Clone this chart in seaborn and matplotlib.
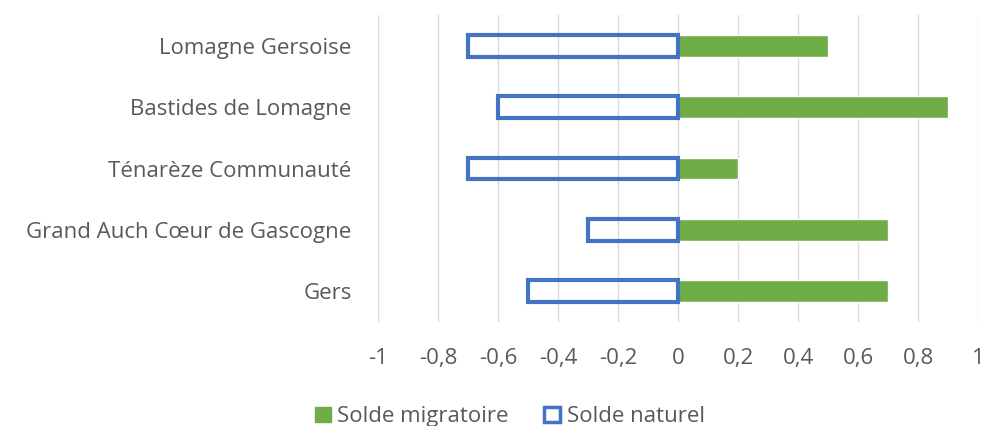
import matplotlib
matplotlib.use('Agg')
import matplotlib.pyplot as plt
import seaborn as sns
import pandas as pd
from matplotlib.patches import Patch
from matplotlib.ticker import FuncFormatter

# data
territoires = ['Lomagne Gersoise', 'Bastides de Lomagne', 'Ténarèze Communauté',
               'Grand Auch Cœur de Gascogne', 'Gers']
solde_migratoire = [0.5, 0.9, 0.2, 0.7, 0.7]
solde_naturel = [-0.7, -0.6, -0.7, -0.3, -0.5]
xticks = [-1, -0.8, -0.6, -0.4, -0.2, 0, 0.2, 0.4, 0.6, 0.8, 1]

df = pd.DataFrame({'territoire': territoires,
                   'migratoire': solde_migratoire,
                   'naturel': solde_naturel})

sns.set_style('white')
plt.rcParams['font.family'] = ['Open Sans', 'DejaVu Sans']

green = '#70AD47'
blue = '#4472C4'
txt = '#595959'
fs = 16

fig = plt.figure(figsize=(9.86, 4.26), dpi=100)
ax = fig.add_axes([0.3834, 0.2441, 0.6085, 0.7207])

sns.barplot(data=df, x='migratoire', y='territoire', orient='h', color=green,
            width=0.355, ax=ax, saturation=1, zorder=2)
sns.barplot(data=df, x='naturel', y='territoire', orient='h', color='white',
            width=0.355, ax=ax, saturation=1, zorder=3)
for p in ax.patches[len(territoires):]:
    p.set_facecolor('none')
    p.set_edgecolor(blue)
    p.set_linewidth(3)

ax.set_xlim(-1, 1)
ax.set_ylim(4.5, -0.5)
ax.set_xticks(xticks)
ax.xaxis.set_major_formatter(FuncFormatter(lambda v, _: ('%g' % round(v, 1)).replace('.', ',')))
ax.grid(axis='x', color='#d9d9d9', linewidth=1, zorder=0)
ax.set_axisbelow(True)
for s in ax.spines.values():
    s.set_visible(False)
ax.set_xlabel('')
ax.set_ylabel('')
ax.tick_params(axis='x', length=0, pad=19, labelsize=fs, labelcolor=txt)
ax.tick_params(axis='y', length=0, pad=19, labelsize=fs, labelcolor=txt)

handles = [Patch(facecolor=green, edgecolor=green, label='Solde migratoire'),
           Patch(facecolor='white', edgecolor=blue, linewidth=2.5, label='Solde naturel')]
fig.legend(handles=handles, loc='lower center', bbox_to_anchor=(0.517, -0.05), ncol=2,
           frameon=False, fontsize=fs, labelcolor=txt, handlelength=0.7, handleheight=0.7,
           handletextpad=0.3, columnspacing=1.6)

fig.savefig('out.png', dpi=100)
